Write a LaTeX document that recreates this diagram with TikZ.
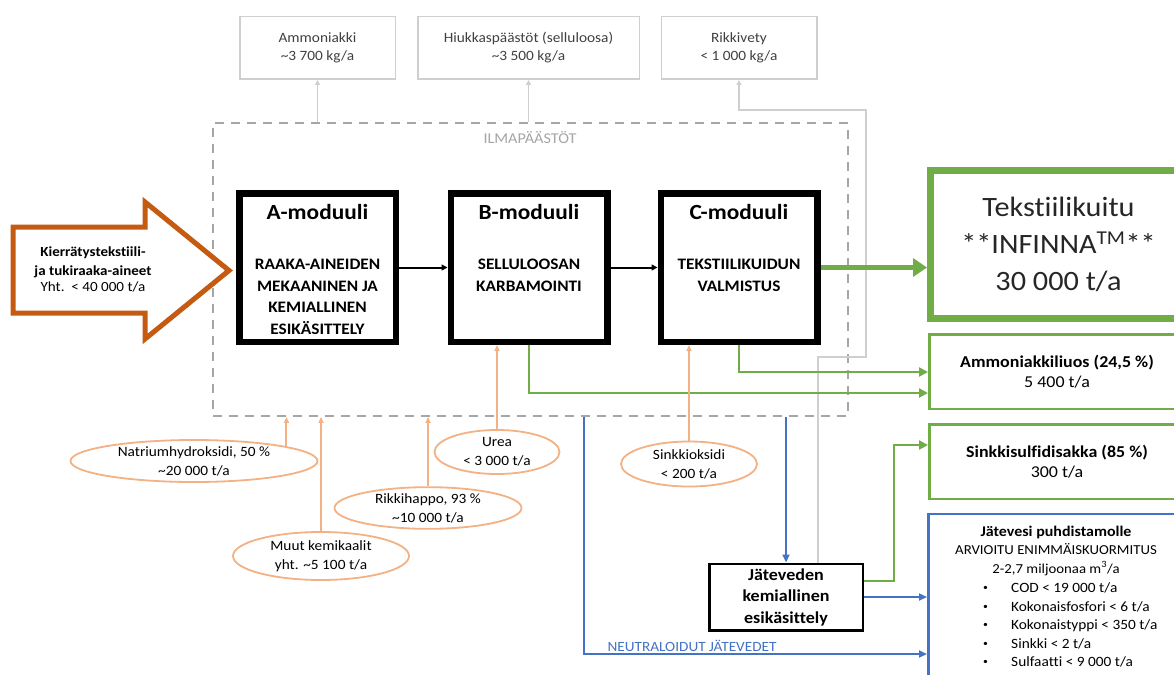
\documentclass[tikz,border=0pt]{standalone}
\usepackage{fontspec}
\setmainfont{Carlito}[Ligatures=NoCommon,FakeStretch=1.08]
\usetikzlibrary{arrows.meta,shapes.geometric,positioning}
\definecolor{kgreen}{HTML}{70AD47}
\definecolor{kbrown}{HTML}{C55A11}
\definecolor{korange}{HTML}{F4B183}
\definecolor{kblue}{HTML}{4472C4}
\definecolor{klgrey}{HTML}{CFCFCF}
\definecolor{kdgrey}{HTML}{A6A6A6}
\definecolor{ktext}{HTML}{404040}
\newcommand{\pxfont}[2]{\fontsize{#1pt}{#2pt}\selectfont}
\newcommand{\jvitem}{\makebox[28pt][l]{\raisebox{1.8pt}{\pxfont{9}{9}\textbullet}}}

\begin{document}
\begin{tikzpicture}[x=1pt,y=-1pt,
    topbox/.style={draw=klgrey,line width=1.5pt,minimum width=155.5,minimum height=62.5,align=center,text=ktext,font=\pxfont{14.2}{18}},
    ilmabox/.style={draw=kdgrey,line width=1.8pt,dash pattern=on 9pt off 7pt,minimum width=635,minimum height=293},
    modbox/.style={draw,line width=6.5pt,minimum width=156.5,minimum height=148.5},
    modtitle/.style={font=\pxfont{21.6}{24}\bfseries},
    modtext/.style={align=center,font=\pxfont{16}{21.5}\bfseries},
    outbox/.style={draw=kgreen,line width=2.5pt,minimum width=255.5,minimum height=74.5,align=center,font=\pxfont{16.6}{20.5}},
    chem/.style={ellipse,draw=korange,line width=1.8pt,fill=white,inner sep=0pt,align=center,font=\pxfont{14.2}{19}},
    greyarr/.style={draw=klgrey,line width=1.5pt,-{Triangle[length=5pt,width=5pt]}},
    blackarr/.style={line width=2pt,-{Triangle[length=6pt,width=6pt]}},
    greenarr/.style={draw=kgreen,line width=2.8pt,-{Triangle[length=9pt,width=9pt]}},
    bluearr/.style={draw=kblue,line width=2.3pt,-{Triangle[length=8pt,width=7pt]}},
    orarr/.style={draw=korange,line width=2pt,-{Triangle[length=6pt,width=5pt]}}]
  \useasboundingbox (0,0) rectangle (1174,674);
  \clip (0,0) rectangle (1174,674);
  \fill[white] (0,0) rectangle (1174,674);

  \node[topbox] (amm) at (317.5,48) {Ammoniakki\\\textasciitilde3 700 kg/a};
  \node[topbox,minimum width=221.5] (hiuk) at (528.5,48) {Hiukkaspäästöt (selluloosa)\\\textasciitilde3 500 kg/a};
  \node[topbox] (rikki) at (739,48) {Rikkivety\\< 1 000 kg/a};

  \node[ilmabox] (ilma) at (530.5,269.5) {};
  \node[text=kdgrey,font=\pxfont{15}{16}] (ilmat) at (530,138) {ILMAPÄÄSTÖT};

  \node[modbox] (modA) at (317.5,267.5) {};
  \node[modbox] (modB) at (529,267.5) {};
  \node[modbox] (modC) at (739,267.5) {};
  \node[modtitle] (titA) at (317.5,212) {A-moduuli};
  \node[modtitle] (titB) at (529,212) {B-moduuli};
  \node[modtitle] (titC) at (739,212) {C-moduuli};
  \node[modtext] (txtA) at (317.5,297) {RAAKA-AINEIDEN\\MEKAANINEN JA\\KEMIALLINEN\\ESIKÄSITTELY};
  \node[modtext] (txtB) at (529,275.5) {SELLULOOSAN\\KARBAMOINTI};
  \node[modtext] (txtC) at (739,275.5) {TEKSTIILIKUIDUN\\VALMISTUS};

  \draw[kbrown,line width=5pt,line join=miter,fill=white] (13,227) -- (145,227) -- (145,202) -- (229,270.5)
    -- (145,339) -- (145,313) -- (13,313) -- cycle;
  \node[align=center,font=\pxfont{13.9}{19}\bfseries] (kierr) at (93,269)
    {Kierrätystekstiili-\\ja tukiraaka-aineet\\[-3pt]{\mdseries\pxfont{14}{19}Yht.\ \ < 40 000 t/a}};

  \node[draw=kgreen,line width=7pt,minimum width=256,minimum height=148,align=center,
    text=black!85,font=\pxfont{28}{37}] (tekst) at (1058.5,244.5)
    {Tekstiilikuitu\\**INFINNA\textsuperscript{TM}**\\30 000 t/a};
  \node[outbox] (amml) at (1057,371.5) {\textbf{Ammoniakkiliuos (24,5~\%)}\\5 400 t/a};
  \node[outbox] (sinks) at (1057,461.5) {\textbf{Sinkkisulfidisakka (85~\%)}\\300 t/a};
  \node[draw=kblue,line width=2.5pt,minimum width=256.5,minimum height=175] (jv) at (1056.5,601.5) {};
  \node[align=center,font=\pxfont{13.7}{18.5}] (jvhead) at (1056,550.5)
    {{\bfseries\pxfont{14.8}{18.5}Jätevesi puhdistamolle}\\ARVIOITU ENIMMÄISKUORMITUS\\2-2,7 miljoonaa m\textsuperscript{3}/a};
  \node[anchor=west,align=left,inner sep=0pt,font=\pxfont{14.2}{18.5}] (jvlist) at (983,625)
    {\jvitem COD < 19 000 t/a\\
     \jvitem Kokonaisfosfori < 6 t/a\\
     \jvitem Kokonaistyppi < 350 t/a\\
     \jvitem Sinkki < 2 t/a\\
     \jvitem Sulfaatti < 9 000 t/a};

  \node[draw,line width=2.5pt,minimum width=153.5,minimum height=66.5,align=center,
    font=\pxfont{16.7}{21.5}\bfseries] (jk) at (786,597) {Jäteveden\\kemiallinen\\esikäsittely};

  \node[chem,minimum width=247,minimum height=42] (nat) at (194,461) {Natriumhydroksidi, 50~\%\\\textasciitilde20 000 t/a};
  \node[chem,minimum width=176,minimum height=48] (muut) at (321,556) {Muut kemikaalit\\yht. \textasciitilde5 100 t/a};
  \node[chem,minimum width=187,minimum height=41] (rikh) at (428,508) {Rikkihappo, 93~\%\\\textasciitilde10 000 t/a};
  \node[chem,minimum width=125,minimum height=44] (urea) at (497,452) {Urea\\< 3 000 t/a};
  \node[chem,minimum width=136,minimum height=45] (sinkk) at (689,464) {Sinkkioksidi\\< 200 t/a};

  \coordinate (gb1) at (818,357);
  \coordinate (gb2) at (866,110);
  \coordinate (ab) at (0,393);
  \coordinate (ac) at (0,372);
  \coordinate (gz) at (894,445);
  \coordinate (nb) at (584,654);

  \draw[greyarr] (ilma.north -| amm.south) -- (amm.south);
  \draw[greyarr] (ilma.north -| hiuk.south) -- (hiuk.south);
  \draw[greyarr] (jk.north -| gb1) -- (gb1) -| (gb2) -| (rikki.south);

  \draw[blackarr] (modA.east) -- (modB.west);
  \draw[blackarr] (modB.east) -- (modC.west);
  \draw[kgreen,line width=5pt,-{Triangle[length=14pt,width=18pt]}] (modC.east) -- (modC.east -| tekst.west);
  \draw[greenarr] (modC.south) |- (amml.west |- ac);
  \draw[greenarr] (modB.south) |- (amml.west |- ab);
  \draw[greenarr] ([yshift=16pt]jk.east) -| (gz) -- (gz -| sinks.west);

  \draw[bluearr] (ilma.south -| jk.north) -- (jk.north);
  \draw[bluearr] (jk.east) -- (jk.east -| jv.west);
  \draw[bluearr] (ilma.south -| nb) -- (nb) -- node[pos=0.315,above,inner sep=1.5pt,text=kblue,font=\pxfont{14.1}{16}]
    {NEUTRALOIDUT JÄTEVEDET} (jv.west |- nb);

  \draw[orarr] (nat.9) -- (nat.9 |- ilma.south);
  \draw[orarr] (muut.north) -- (muut.north |- ilma.south);
  \draw[orarr] (rikh.north) -- (rikh.north |- ilma.south);
  \draw[orarr] (urea.north) -- (urea.north |- modB.south);
  \draw[orarr] (sinkk.north) -- (sinkk.north |- modC.south);
\end{tikzpicture}
\end{document}
